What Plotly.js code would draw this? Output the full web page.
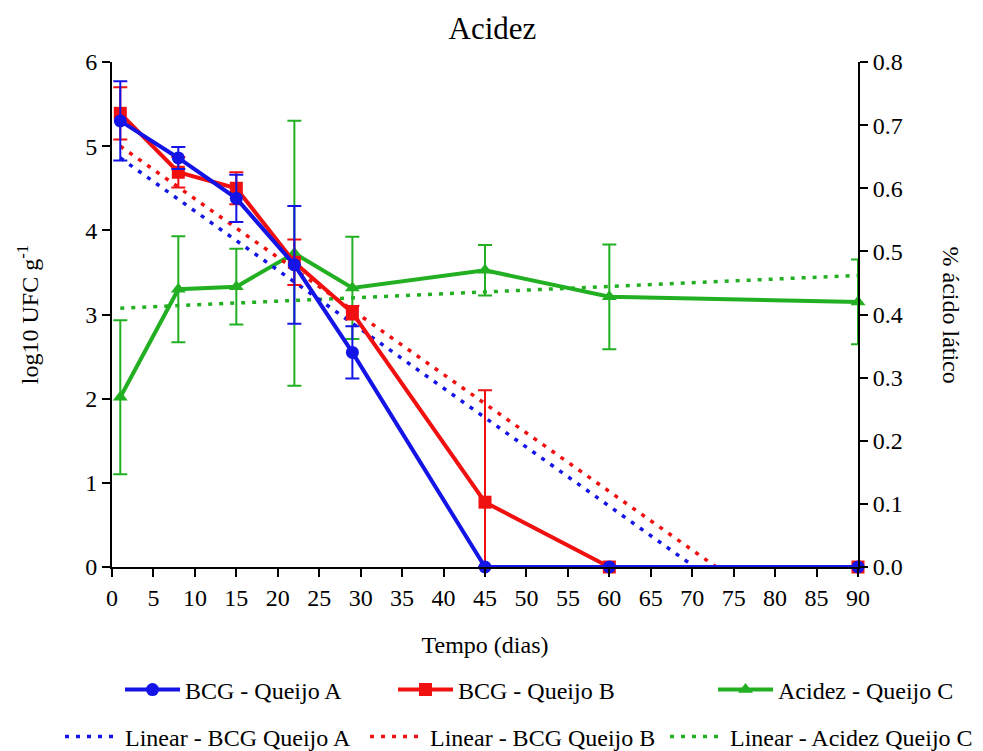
<!DOCTYPE html>
<html>
<head>
<meta charset="utf-8">
<script src="https://cdn.plot.ly/plotly-3.0.1.min.js"></script>
<style>html,body{margin:0;padding:0;background:#fff;}#chart{width:983px;height:751px;}</style>
</head>
<body>
<div id="chart"></div>
<script>
// ---- data ----
const days = [1, 8, 15, 22, 29, 45, 60, 90];
const bcgA = [5.30, 4.86, 4.38, 3.59, 2.55, 0, 0, 0];
const bcgAErr = [0.47, 0.13, 0.28, 0.70, 0.31, 0, 0, 0];
const bcgB = [5.39, 4.69, 4.50, 3.62, 3.02, 0.77, 0, 0];
const bcgBErr = [0.31, 0.18, 0.19, 0.27, 0.08, 1.33, 0, 0];
const acidezC = [0.269, 0.440, 0.444, 0.497, 0.442, 0.470, 0.428, 0.420];
const acidezCErr = [0.122, 0.084, 0.060, 0.210, 0.081, 0.040, 0.083, 0.067];
// linear trend lines (end points)
const trendAX = [1, 70.3];
const trendAY = [4.86, 0];
const trendBX = [1, 72.9];
const trendBY = [5.00, 0];
const trendCX = [1, 90];
const trendCY = [0.410, 0.462];
const xTicks = [0,5,10,15,20,25,30,35,40,45,50,55,60,65,70,75,80,85,90];
const seriesNames = ['BCG - Queijo A', 'BCG - Queijo B', 'Acidez - Queijo C',
                     'Linear - BCG Queijo A', 'Linear - BCG Queijo B', 'Linear - Acidez Queijo C'];

const BLUE = '#1414e6', RED = '#f01010', GREEN = '#22b022';
const FONT = 'Liberation Serif';
const FS = 24;
const dotDash = '4px,7px';
const IW = 55;

const traces = [
  {x: trendAX, y: trendAY, yaxis: 'y2', mode: 'lines', name: seriesNames[3],
   line: {color: BLUE, width: 3.5, dash: dotDash}, legend: 'legend4'},
  {x: trendBX, y: trendBY, yaxis: 'y2', mode: 'lines', name: seriesNames[4],
   line: {color: RED, width: 3.5, dash: dotDash}, legend: 'legend5'},
  {x: trendCX, y: trendCY, yaxis: 'y', mode: 'lines', name: seriesNames[5],
   line: {color: GREEN, width: 3.5, dash: dotDash}, legend: 'legend6'},
  {x: days, y: acidezC, yaxis: 'y', mode: 'lines+markers', name: seriesNames[2],
   line: {color: GREEN, width: 4}, marker: {symbol: 'triangle-up', size: 13, color: GREEN},
   error_y: {type: 'data', array: acidezCErr, visible: true, color: GREEN, thickness: 2, width: 7},
   legend: 'legend3', cliponaxis: false},
  {x: days, y: bcgB, yaxis: 'y2', mode: 'lines+markers', name: seriesNames[1],
   line: {color: RED, width: 4}, marker: {symbol: 'square', size: 13, color: RED},
   error_y: {type: 'data', array: bcgBErr, visible: true, color: RED, thickness: 2, width: 7},
   legend: 'legend2', cliponaxis: false},
  {x: days, y: bcgA, yaxis: 'y2', mode: 'lines+markers', name: seriesNames[0],
   line: {color: BLUE, width: 4}, marker: {symbol: 'circle', size: 13, color: BLUE},
   error_y: {type: 'data', array: bcgAErr, visible: true, color: BLUE, thickness: 2, width: 7},
   legend: 'legend', cliponaxis: false}
];

const tickFont = {family: FONT, size: FS, color: '#000'};
const PL = 112, PW = 746, PB = 567, PH = 505;
function legendAt(textX, cy) {
  return {
    orientation: 'h', x: (textX - (IW + 10) - PL) / PW, xanchor: 'left',
    y: (PB - cy) / PH, yanchor: 'middle', itemwidth: IW,
    font: {family: FONT, size: FS, color: '#000'}, bgcolor: 'rgba(0,0,0,0)', borderwidth: 0
  };
}

const layout = {
  width: 983, height: 751,
  margin: {l: 112, r: 125, t: 62, b: 184, autoexpand: false},
  paper_bgcolor: '#fff', plot_bgcolor: '#fff',
  font: {family: FONT, size: FS, color: '#000'},
  title: {text: 'Acidez', font: {family: FONT, size: 31, color: '#000'}, x: 0.51, xref: 'paper', y: 0.963, yref: 'container', xanchor: 'center', yanchor: 'middle'},
  xaxis: {
    range: [0, 90], tickvals: xTicks, ticktext: xTicks.map(String),
    showline: true, linecolor: '#000', linewidth: 2, mirror: false,
    ticks: 'outside', ticklen: 8, tickwidth: 2, tickcolor: '#000',
    showgrid: false, zeroline: false, tickfont: tickFont,
    title: {text: 'Tempo (dias)', font: {family: FONT, size: FS, color: '#000'}, standoff: 26}
  },
  yaxis2: {
    range: [0, 6], dtick: 1, tick0: 0, side: 'left', overlaying: 'y', anchor: 'x',
    showline: true, linecolor: '#000', linewidth: 2,
    ticks: 'outside', ticklen: 8, tickwidth: 2, tickcolor: '#000',
    showgrid: false, zeroline: false, tickfont: tickFont,
    title: {text: 'log10 UFC g<sup>-1</sup>', font: {family: FONT, size: FS, color: '#000'}, standoff: 40}
  },
  yaxis: {
    range: [0, 0.8], dtick: 0.1, tick0: 0, tickformat: '.1f', side: 'right', anchor: 'x',
    showline: true, linecolor: '#000', linewidth: 2,
    ticks: 'outside', ticklen: 8, tickwidth: 2, tickcolor: '#000',
    showgrid: false, zeroline: false, tickfont: tickFont
  },
  annotations: [{
    text: '% ácido lático', xref: 'paper', yref: 'paper', x: (951 - PL) / PW, y: 0.5,
    textangle: 90, showarrow: false, font: {family: FONT, size: FS, color: '#000'},
    xanchor: 'center', yanchor: 'middle'
  }],
  legend: legendAt(185, 690),
  legend2: legendAt(458, 690),
  legend3: legendAt(778, 690),
  legend4: legendAt(125, 737),
  legend5: legendAt(430, 737),
  legend6: legendAt(730, 737),
  showlegend: true
};

Plotly.newPlot('chart', traces, layout, {displayModeBar: false, staticPlot: true});
</script>
</body>
</html>
